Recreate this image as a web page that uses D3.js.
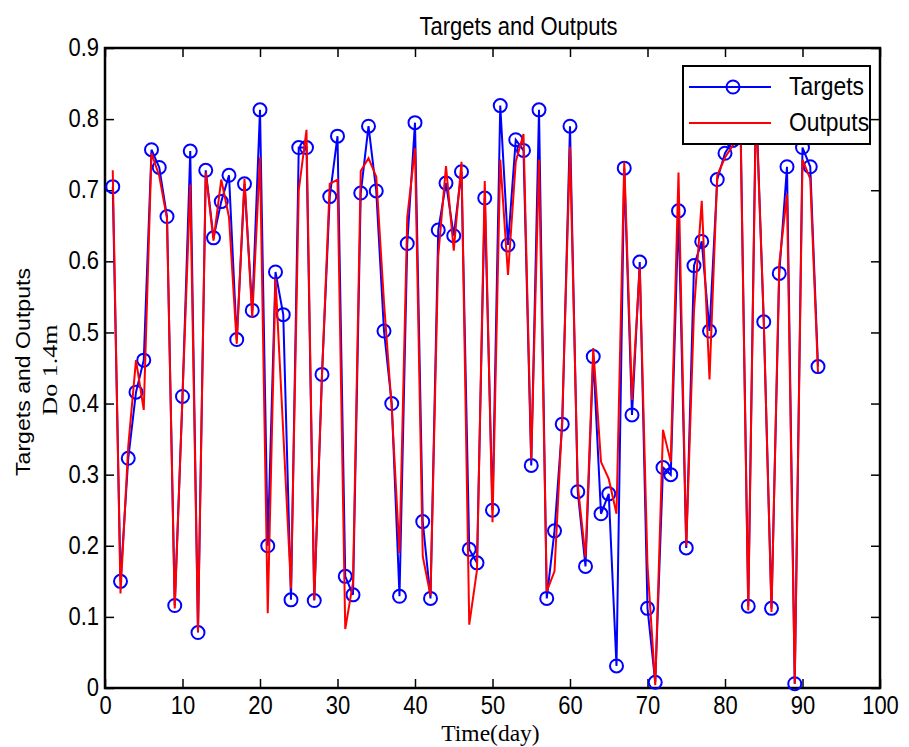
<!DOCTYPE html>
<html>
<head>
<meta charset="utf-8">
<script src="https://cdn.jsdelivr.net/npm/d3@7"></script>
<style>
  body { margin: 0; background: #fff; }
  text { font-family: "Liberation Sans", Arial, sans-serif; }
</style>
</head>
<body>
<svg></svg>
<script>
// targets vs network outputs, one value per day
var targets = [0.705, 0.150, 0.323, 0.416, 0.461, 0.757, 0.732, 0.663, 0.116, 0.410,
  0.755, 0.078, 0.728, 0.633, 0.684, 0.721, 0.490, 0.709, 0.531, 0.813,
  0.200, 0.585, 0.525, 0.124, 0.760, 0.760, 0.123, 0.441, 0.691, 0.776,
  0.157, 0.131, 0.696, 0.790, 0.699, 0.502, 0.400, 0.129, 0.625, 0.795,
  0.234, 0.126, 0.644, 0.710, 0.636, 0.726, 0.195, 0.176, 0.689, 0.250,
  0.819, 0.623, 0.771, 0.756, 0.313, 0.813, 0.126, 0.221, 0.371, 0.790,
  0.276, 0.171, 0.466, 0.245, 0.273, 0.031, 0.731, 0.384, 0.599, 0.112,
  0.008, 0.310, 0.300, 0.671, 0.197, 0.594, 0.628, 0.502, 0.715, 0.752,
  0.770, 0.800, 0.115, 0.830, 0.515, 0.112, 0.583, 0.733, 0.006, 0.760,
  0.733, 0.452];
var outputs = [0.728, 0.133, 0.340, 0.461, 0.391, 0.752, 0.720, 0.660, 0.112, 0.410,
  0.708, 0.079, 0.725, 0.629, 0.715, 0.662, 0.484, 0.716, 0.521, 0.746,
  0.105, 0.576, 0.360, 0.140, 0.700, 0.785, 0.124, 0.440, 0.709, 0.715,
  0.083, 0.148, 0.727, 0.745, 0.719, 0.542, 0.393, 0.190, 0.662, 0.759,
  0.185, 0.130, 0.608, 0.734, 0.615, 0.740, 0.089, 0.166, 0.713, 0.233,
  0.743, 0.581, 0.740, 0.779, 0.321, 0.743, 0.136, 0.164, 0.380, 0.761,
  0.285, 0.184, 0.478, 0.318, 0.294, 0.245, 0.740, 0.405, 0.592, 0.172,
  0.004, 0.363, 0.318, 0.725, 0.200, 0.531, 0.685, 0.434, 0.721, 0.746,
  0.763, 0.790, 0.109, 0.820, 0.518, 0.107, 0.596, 0.695, 0.006, 0.743,
  0.716, 0.444];
var days = targets.map((d, i) => i + 1);
var xTicks = [0, 10, 20, 30, 40, 50, 60, 70, 80, 90, 100];
var yTicks = [0, 0.1, 0.2, 0.3, 0.4, 0.5, 0.6, 0.7, 0.8, 0.9];
var seriesNames = ["Targets", "Outputs"];

const margin = {top: 48, right: 29, bottom: 59, left: 105};
const width = 909 - margin.left - margin.right;
const height = 747 - margin.top - margin.bottom;
const serif = "'Liberation Serif', 'Times New Roman', serif";
const sy = 1.15; // text in the picture is a bit taller than wide

var svg = d3.select("svg")
  .attr("width", 909)
  .attr("height", 747)
  .append("g")
  .attr("transform", "translate(" + margin.left + "," + margin.top + ")");

var x = d3.scaleLinear().domain([0, 100]).range([0, width]);
var y = d3.scaleLinear().domain([0, 0.9]).range([height, 0]);

var fmt = d => d === 0 ? "0" : d3.format(".1f")(d);

// axes, ticks pointing inward like matlab
var xAxis = d3.axisBottom(x).tickValues(xTicks).tickSize(-9).tickPadding(7).tickFormat(d3.format("d"));
var yAxis = d3.axisLeft(y).tickValues(yTicks).tickSize(-9).tickPadding(6).tickFormat(fmt);

var xG = svg.append("g").attr("transform", "translate(0," + height + ")").call(xAxis);
var yG = svg.append("g").call(yAxis);
svg.append("g").call(d3.axisTop(x).tickValues(xTicks).tickSize(-9).tickFormat(""));
svg.append("g").attr("transform", "translate(" + width + ",0)")
  .call(d3.axisRight(y).tickValues(yTicks).tickSize(-9).tickFormat(""));

svg.selectAll(".domain").remove();
svg.selectAll(".tick line").attr("stroke", "#000").attr("stroke-width", 1.5);

// stretch tick labels vertically
xG.selectAll("text").attr("font-size", 22).attr("fill", "#000")
  .attr("y", 7).attr("dy", "0.71em").attr("transform", "scale(1," + sy + ")");
yG.selectAll("text").attr("font-size", 22).attr("fill", "#000")
  .attr("dy", "0.3em").attr("transform", "scale(1," + sy + ")");

svg.append("rect")
  .attr("width", width).attr("height", height)
  .attr("fill", "none").attr("stroke", "#000").attr("stroke-width", 2.5);

var line = d3.line().x((d, i) => x(days[i])).y(d => y(d));

svg.append("path").datum(targets)
  .attr("d", line).attr("fill", "none")
  .attr("stroke", "#0000ff").attr("stroke-width", 2);

svg.selectAll("circle.tgt").data(targets)
  .enter().append("circle")
  .attr("class", "tgt")
  .attr("cx", (d, i) => x(days[i]))
  .attr("cy", d => y(d))
  .attr("r", 6.5)
  .attr("fill", "none").attr("stroke", "#0000ff").attr("stroke-width", 2);

svg.append("path").datum(outputs)
  .attr("d", line).attr("fill", "none")
  .attr("stroke", "#ff0000").attr("stroke-width", 2);

// legend
var lg = svg.append("g").attr("transform", "translate(" + (683 - margin.left) + "," + (66 - margin.top) + ")");
lg.append("rect").attr("width", 187).attr("height", 78)
  .attr("fill", "#fff").attr("stroke", "#000").attr("stroke-width", 2);
var colors = ["#0000ff", "#ff0000"];
seriesNames.forEach(function(name, i) {
  var ly = 21 + i * 36;
  lg.append("line").attr("x1", 6).attr("x2", 88).attr("y1", ly).attr("y2", ly)
    .attr("stroke", colors[i]).attr("stroke-width", 2);
  if (i === 0) {
    lg.append("circle").attr("cx", 50).attr("cy", ly).attr("r", 6.5)
      .attr("fill", "none").attr("stroke", colors[i]).attr("stroke-width", 2);
  }
  lg.append("text").attr("transform", "translate(106," + (ly + 8) + ") scale(1.04," + sy + ")")
    .attr("font-size", 22).text(name);
});

// titles
svg.append("text").attr("transform", "translate(" + (width / 2 + 26) + ",-13) scale(1," + sy + ")")
  .attr("text-anchor", "middle").attr("font-size", 22).text("Targets and Outputs");

svg.append("text")
  .attr("transform", "translate(" + (30 - margin.left) + "," + (372 - margin.top) + ") rotate(-90) scale(1.1,1)")
  .attr("text-anchor", "middle").attr("font-size", 21).text("Targets and Outputs");
svg.append("text")
  .attr("transform", "translate(" + (57 - margin.left) + "," + (370 - margin.top) + ") rotate(-90) scale(1.3,1)")
  .attr("text-anchor", "middle").attr("font-size", 20)
  .style("font-family", serif).text("Do 1.4m");

svg.append("text").attr("transform", "translate(" + (x(50) - 2) + "," + (height + 53) + ") scale(1.12,1.1)")
  .attr("text-anchor", "middle").attr("font-size", 21)
  .style("font-family", serif).text("Time(day)");
</script>
</body>
</html>
